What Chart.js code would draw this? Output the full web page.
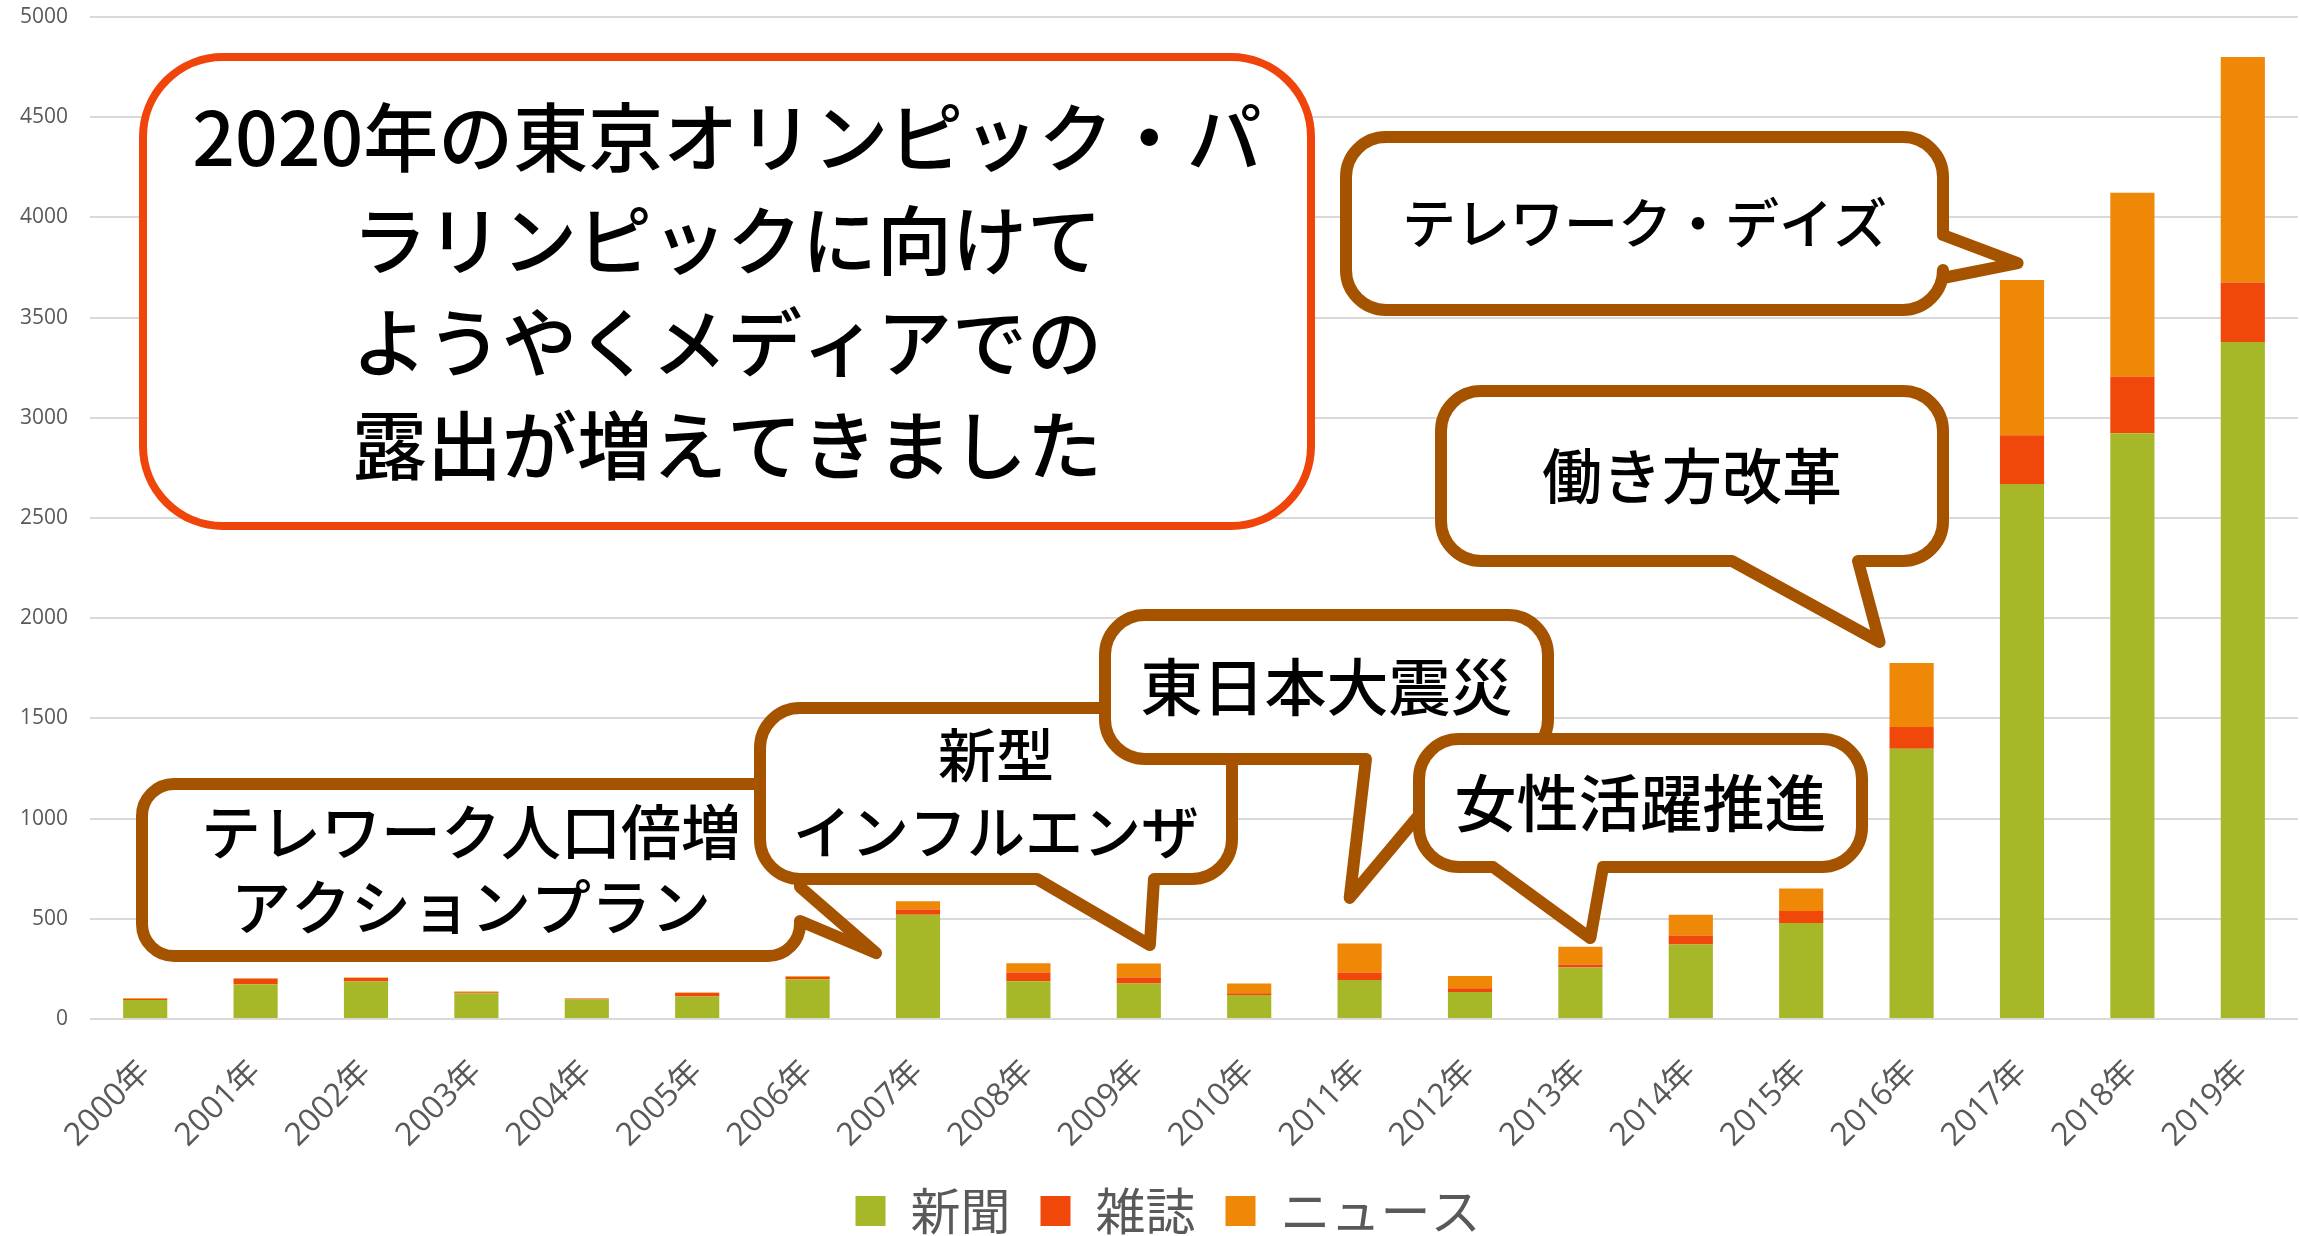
<!DOCTYPE html>
<html lang="ja">
<head>
<meta charset="UTF-8">
<title>テレワーク メディア露出件数</title>
<script src="https://cdn.jsdelivr.net/npm/chart.js"></script>
<style>
  body { margin: 0; background: #fff; }
  #wrap { width: 2300px; height: 1236px; }
</style>
</head>
<body>
<div id="wrap"><canvas id="mediaChart" width="2300" height="1236"></canvas></div>
<script>
const years = ['2000年', '2001年', '2002年', '2003年', '2004年', '2005年', '2006年', '2007年', '2008年', '2009年',
               '2010年', '2011年', '2012年', '2013年', '2014年', '2015年', '2016年', '2017年', '2018年', '2019年'];
const shinbun = [95, 173, 187, 128, 97, 112, 198, 520, 188, 177, 120, 195, 135, 257, 372, 479, 1349, 2670, 2923, 3378];
const zasshi  = [5, 28, 17, 6, 4, 18, 12, 27, 44, 30, 8, 37, 18, 15, 45, 60, 108, 243, 283, 297];
const news    = [3, 2, 3, 3, 2, 2, 3, 40, 46, 70, 49, 145, 62, 88, 103, 112, 320, 775, 917, 1126];
const seriesNames = ['新聞', '雑誌', 'ニュース'];
const seriesColors = ['#A6B727', '#F0470A', '#EF8806'];

const textGray = '#595959';
const brown = '#A65300';

// speech bubbles: box = [left, top, width, height] in canvas px,
// tip = [category index, value] so it follows the scales
const callouts = [
  { lines: ['テレワーク人口倍増', 'アクションプラン'], size: 60, gap: 75,
    box: [142, 784, 658, 172], r: 32, side: 'right', base: [887, 921], tip: [6.62, 329] },
  { lines: ['新型', 'インフルエンザ'], size: 58, gap: 77,
    box: [760, 708, 472, 171], r: 40, side: 'bottom', base: [1037, 1154], tip: [9.10, 369] },
  { lines: ['東日本大震災'], size: 62,
    box: [1105, 615, 443, 144], r: 40, side: 'bottom', base: [1366, 1466], tip: [10.91, 604] },
  { lines: ['女性活躍推進'], size: 62,
    box: [1419, 739, 443, 128], r: 40, side: 'bottom', base: [1493, 1603], tip: [13.09, 404] },
  { lines: ['働き方改革'], size: 60,
    box: [1441, 391, 502, 170], r: 40, side: 'bottom', base: [1732, 1858], tip: [15.71, 1881] },
  { lines: ['テレワーク・デイズ'], size: 54,
    box: [1346, 137, 597, 173], r: 40, side: 'right', base: [235, 278], tip: [16.96, 3772] },
  { lines: ['2020年の東京オリンピック・パ', 'ラリンピックに向けて', 'ようやくメディアでの', '露出が増えてきました'],
    size: 75, gap: 102.7, box: [143, 57, 1168, 469], r: 80, color: '#F0450A', lw: 8 }
];

function bubblePath(ctx, c, tip) {
  const [x, y, w, h] = c.box;
  const r = c.r, x2 = x + w, y2 = y + h;
  ctx.beginPath();
  ctx.moveTo(x + r, y);
  ctx.lineTo(x2 - r, y);
  ctx.arcTo(x2, y, x2, y + r, r);
  if (c.side === 'right') {
    ctx.lineTo(x2, c.base[0]);
    ctx.lineTo(tip.x, tip.y);
    ctx.lineTo(x2, c.base[1]);
  }
  ctx.lineTo(x2, y2 - r);
  ctx.arcTo(x2, y2, x2 - r, y2, r);
  if (c.side === 'bottom') {
    ctx.lineTo(c.base[1], y2);
    ctx.lineTo(tip.x, tip.y);
    ctx.lineTo(c.base[0], y2);
  }
  ctx.lineTo(x + r, y2);
  ctx.arcTo(x, y2, x, y2 - r, r);
  ctx.lineTo(x, y + r);
  ctx.arcTo(x, y, x + r, y, r);
  ctx.closePath();
}

const calloutPlugin = {
  id: 'callouts',
  afterLayout(chart) {
    // legend sits centred under the plot area rather than the whole canvas
    if (chart.legend) chart.legend.left += 38;
  },
  afterDatasetsDraw(chart) {
    const { ctx, scales: { x, y } } = chart;
    ctx.save();
    callouts.forEach(c => {
      const tip = c.tip ? { x: x.getPixelForValue(c.tip[0]), y: y.getPixelForValue(c.tip[1]) } : null;
      bubblePath(ctx, c, tip);
      ctx.fillStyle = '#fff';
      ctx.fill();
      ctx.lineWidth = c.lw || 12;
      ctx.lineJoin = 'round';
      ctx.strokeStyle = c.color || brown;
      ctx.stroke();

      const [bx, by, bw, bh] = c.box;
      const cx = bx + bw / 2, cy = by + bh / 2;
      const gap = c.gap || 0;
      ctx.fillStyle = '#000';
      ctx.font = '500 ' + c.size + 'px "Noto Sans CJK JP", sans-serif';
      ctx.textAlign = 'center';
      ctx.textBaseline = 'middle';
      c.lines.forEach((t, i) => {
        ctx.fillText(t, cx, cy + (i - (c.lines.length - 1) / 2) * gap);
      });
    });
    ctx.restore();
  }
};

const ctx = document.getElementById('mediaChart').getContext('2d');
new Chart(ctx, {
  type: 'bar',
  data: {
    labels: years,
    datasets: [shinbun, zasshi, news].map((d, i) => ({
      label: seriesNames[i],
      data: d,
      backgroundColor: seriesColors[i],
      borderWidth: 0,
      barPercentage: 0.4,
      categoryPercentage: 1.0
    }))
  },
  options: {
    responsive: false,
    animation: false,
    layout: { padding: { top: 17, right: 2, left: 0, bottom: -10 } },
    plugins: {
      legend: {
        position: 'bottom',
        labels: {
          boxWidth: 30,
          boxHeight: 30,
          padding: 30,
          color: textGray,
          font: { size: 50, family: '"Noto Sans CJK JP", sans-serif' }
        }
      },
      tooltip: { enabled: false }
    },
    scales: {
      x: {
        stacked: true,
        grid: { display: false },
        border: { display: false },
        ticks: {
          minRotation: 45,
          maxRotation: 45,
          padding: 26,
          color: textGray,
          font: { size: 32, family: '"Open Sans", "Noto Sans CJK JP", sans-serif' }
        },
        afterFit(scale) {
          const lg = scale.chart.legend;
          scale.height = 227 - (lg ? lg.height : 90);
        }
      },
      y: {
        stacked: true,
        min: 0,
        max: 5000,
        grid: { color: '#D9D9D9', lineWidth: 2, drawTicks: false },
        border: { display: false },
        ticks: {
          stepSize: 500,
          padding: 22,
          color: textGray,
          font: { size: 21, family: '"Open Sans", sans-serif' },
          callback: v => String(v)
        },
        afterFit(scale) {
          scale.width = 90;
          // only half a label of room above the top tick, not the tick padding too
          scale.paddingTop = 13;
          scale.paddingBottom = 13;
        }
      }
    }
  },
  plugins: [calloutPlugin]
});
</script>
</body>
</html>
